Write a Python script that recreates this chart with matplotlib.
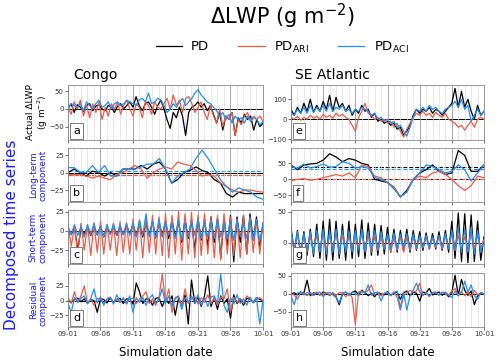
import numpy as np
import matplotlib
matplotlib.use('Agg')
import matplotlib.pyplot as plt
import matplotlib.dates as mdates
from datetime import datetime

# ---- data (half-day steps unless noted) ----
# Congo, actual dLWP
a_pd = [0, 15, -10, 12, 5, -8, 10, 15, -5, 8, 12, 0, -5, 10, 5, -10, 8, 15, 0, 10, 20, 5, 35, 10, -5, 15, 20, 5,
        -15, 10, 25, 0, -30, -55, -10, -25, 5, -20, -75, -10, 5, 10, 20, 5, 15, -5, 10, -15, -40, -10, -60, -20,
        -30, -10, -75, -25, -40, -15, -30, -20, -60, -30, -50, -40]
a_ari = [5, -15, 20, 0, 25, -20, 10, -25, 15, -10, 20, -30, 5, -20, 15, 0, 20, -15, 10, 25, 0, -20, 15, 5, -25,
         20, 10, -15, 20, 5, 0, 15, 30, 0, 40, 10, 25, -10, 30, 35, 15, -10, 5, 20, -10, -30, 10, -20, -40, 0,
         -50, -20, -30, -10, -75, -30, -45, -20, -10, -35, -20, -30, -20, -35]
a_aci = [0, 15, 10, 5, 15, -5, 20, 10, 0, 15, 25, 5, 10, 20, 0, 15, 20, 10, 15, 25, 20, 15, 10, 25, 30, 20, 45,
         15, 20, 30, 25, 10, -10, 0, 15, 5, 20, 30, 10, 20, 30, 45, 55, 40, 30, 20, 15, 5, -5, -20, -10, -30,
         -15, -40, -20, -30, -25, -40, -20, -35, -25, -30, -45, -35]

# Congo, long-term component (daily)
b_pd = [0, 5, 0, -5, 2, 0, -5, 0, -5, 5, 5, 5, 10, 5, 12, 15, 5, -15, -10, 0, 3, 8, 3, 0, -10, -15, -30, -35,
        -28, -30, -30, -30, -30]
b_ari = [-3, -3, -3, -5, -8, -5, -8, -10, -3, 0, 5, 10, 5, -8, 0, 5, 8, 5, 15, 12, 10, 3, -5, -3, -5, -15, -20,
         -25, -28, -25, -25, -27, -28]
b_aci = [7, 7, 0, 0, 10, 0, 10, -5, -5, 5, 5, 5, 8, 12, 12, 20, 5, -15, -5, 0, 5, 20, 32, 20, 5, -10, -20, -28,
         -22, -25, -28, -35, -38]

# Congo, short-term component
c_pd = [4, -5, 5, -25, 3, -4, 5, -6, 4, -5, 6, -8, 5, -4, 6, -6, 5, -5, 7, -4, 8, -6, 10, -8, 9, -5, 12, -8,
        10, -6, 12, -10, 14, -8, 12, -15, 15, -10, 14, -25, 16, -12, 15, -20, 18, -15, 16, -35, 18, -20, 20,
        -40, 18, -15, 20, -30, 22, -12, 18, -20, 10]
c_ari = [8, -20, 6, -30, 10, -25, 8, -32, 10, -28, 12, -30, 8, -25, 10, -32, 12, -28, 10, -30, 15, -25, 14,
         -35, 18, -28, 20, -30, 18, -32, 22, -35, 20, -30, 25, -38, 22, -30, 24, -35, 20, -32, 22, -30, 18, -35,
         20, -38, 22, -30, 18, -32, 15, -35, 20, -30, 18, -28, 15, -30, 10]
c_aci = [6, -5, 8, -6, 6, -8, 8, -5, 10, -6, 6, -8, 8, -5, 9, -6, 8, -5, 10, -6, 10, -8, 14, -6, 22, -8, 12,
         -10, 15, -8, 12, -6, 10, -10, 14, -12, 10, -8, 12, -6, 14, -10, 10, -8, 12, -10, 15, -8, 10, -10, 12,
         -12, 14, -8, 10, -10, 15, -12, 14, -14, 8]

# Congo, residual component
d_pd = [0, -3, 2, 4, -2, 3, -5, 2, 0, -20, 3, 2, -4, 5, -3, 2, 4, -5, 3, 2, -6, 30, 15, -5, 3, 2, -8, 4, 5, -10,
        3, -5, 8, -25, 4, -8, 10, -40, 35, -5, 6, -10, 8, 42, -10, 5, -15, 8, -5, 3, -30, 10, -5, 3, -8, 4, 2,
        -3, 5, 2, 0]
d_ari = [5, -5, 15, -3, 8, 25, -5, 3, -8, 4, 2, -5, 3, 6, -4, 2, -3, 5, -6, 3, 4, -5, 2, 8, 15, -5, 3, -8, 5,
         45, -3, 20, -20, 5, 8, -10, 20, -5, 3, 8, -6, 5, -3, 10, -5, 4, -8, 6, 3, 20, -20, 5, -3, 4, -5, 8, 3,
         -4, 2, 5, 0]
d_aci = [-5, -20, 5, -3, 4, 8, -5, 3, 20, -4, 6, -8, 3, 5, -6, 10, -3, 4, -5, 8, -20, 5, -3, 6, -8, 4, 10, -5,
         3, 20, -5, 8, -10, 4, 6, -15, 5, -3, 8, -5, 10, -8, 5, -10, 6, 8, -5, 45, -8, -20, 5, -6, 10, -5, 3,
         -8, 6, -4, 5, -40, 0]

# SE Atlantic, actual dLWP
e_pd = [50, 20, 60, 30, 80, 40, 100, 35, 70, 40, 90, 50, 120, 40, 110, 60, 80, 40, 70, 20, 50, 30, 70, 40, 50,
        10, 30, -10, 0, -20, -10, -30, -20, -50, -40, -80, -60, -30, 20, 50, 30, 50, 40, 60, 30, 50, 40, 20, 40,
        60, 80, 155, 60, 140, 60, 100, 40, 0, 70, 20, 40]
e_ari = [10, 0, 15, -5, 10, 0, 20, 5, 15, 0, 25, 10, 20, 5, 30, 15, 25, 10, 0, -30, -60, 10, 40, 80, 30, 20, 0,
         10, -10, 0, -20, -10, -40, -20, -60, -90, -50, -20, 10, 30, 20, 40, 20, 30, 10, 35, 20, 10, 30, 0, -10,
         -20, -40, -30, -55, -30, -10, -40, 0, 10, 0]
e_aci = [30, 20, 50, 30, 60, 30, 70, 35, 60, 40, 70, 40, 80, 40, 60, 50, 70, 40, 50, 30, 50, 40, 60, 50, 40, 20,
         30, 0, 10, -10, 0, -20, -10, -40, -30, -60, -85, -40, 10, 50, 40, 60, 40, 70, 50, 60, 40, 30, 50, 60,
         70, 90, 60, 100, 50, 70, -10, 20, 50, 20, 40]

# SE Atlantic, long-term component (daily)
f_pd = [45, 30, 45, 48, 50, 60, 80, 70, 55, 65, 60, 50, 45, 0, -5, -10, -25, -55, -35, 0, 20, 30, 45, 25, 15,
        20, 90, 75, 25, 25, 45]
f_ari = [-5, 0, 2, -3, 0, 5, 10, 15, 10, 20, 5, 45, 40, 10, 5, -10, -25, -55, -40, 0, 10, 5, 20, 25, 15, 0, -20,
         -35, -20, 10, 5]
f_aci = [40, 35, 48, 35, 40, 48, 38, 40, 55, 50, 35, 40, 35, 5, 0, -10, -30, -55, -40, 0, 20, 45, 40, 30, 20,
         25, 45, 30, -5, 20, 45]

# SE Atlantic, short-term component
g_pd = [25, -15, 20, -20, 18, -20, 22, -22, 30, -25, 35, -28, 38, -28, 35, -25, 30, -28, 35, -25, 30, -22, 37,
        -25, 32, -20, 30, -20, 28, -18, 25, -15, 22, -15, 20, -12, 22, -15, 20, -12, 18, -12, 16, -10, 15, -10,
        18, -12, 20, -15, 35, -25, 48, -30, 47, -32, 45, -30, 35, -28, 10]
g_ari = [10, -8, 12, -10, 8, -10, 10, -12, 12, -10, 15, -12, 12, -10, 14, -12, 12, -10, 10, -8, 12, -10, 15,
         -12, 12, -15, 10, -12, 8, -10, 10, -15, 8, -12, 10, -15, 8, -12, 10, -10, 8, -8, 10, -10, 8, -8, 10,
         -10, 12, -8, 15, -12, 12, -10, 10, -12, 15, -10, 12, -8, 5]
g_aci = [20, -12, 18, -15, 15, -15, 18, -18, 20, -15, 22, -18, 20, -15, 22, -18, 20, -15, 18, -15, 20, -12, 22,
         -15, 18, -12, 20, -12, 18, -10, 15, -10, 16, -10, 14, -8, 15, -10, 14, -8, 12, -8, 12, -8, 10, -6, 12,
         -8, 15, -10, 20, -12, 25, -15, 22, -15, 25, -18, 20, -15, 5]

# SE Atlantic, residual component
h_pd = [0, 3, -2, 5, 2, 38, -5, 3, 0, -3, 5, 2, -4, 3, -8, -30, 0, 5, -3, 4, 8, -2, 10, 3, -5, 2, -8, 4, 0, -3,
        6, -4, 2, 5, -15, 3, 8, -5, 4, 2, -20, 5, 3, 15, -3, 2, 5, -4, 3, -8, 4, 52, -5, 40, 10, -4, 8, -30, -5,
        3, 0]
h_ari = [0, -3, -15, 4, 2, -5, 3, 0, 5, -4, 2, 3, -3, 2, -5, 4, 3, -8, 2, -10, -85, 5, 8, 2, 10, 25, -3, 4, -5,
         2, 3, -5, 6, -10, -45, -5, 3, 10, 5, 8, 30, -5, 3, -8, 4, 2, -3, 5, 2, -4, 8, 15, -3, 6, -5, 4, -8, 10,
         -3, 2, 0]
h_aci = [-5, -30, 2, 5, -3, 4, 2, -5, 3, 5, -8, 2, 4, -3, -10, -25, 2, 5, -3, 4, 2, -5, 6, 3, 25, -4, 3, 5, -20,
         2, 4, -5, 3, 8, -40, 5, -45, -5, 10, 30, 5, -3, 4, -5, 2, 6, -4, 3, 5, -3, -10, 8, -5, 4, 35, 5, 25, -5,
         -15, 3, 0]

# dashed mean lines in the long-term panels
b_means = [-4, -3, 2]
f_means = [38, 0, 32]

RED = '#f05a46'
BLUE = '#1f8ff5'
TXTBLUE = '#1a1aff'

start = mdates.date2num(datetime(2017, 9, 1))


def days(vals):
    return start + np.linspace(0, 30, len(vals))


fig = plt.figure(figsize=(5, 3.62), dpi=100)

lefts = [68 / 500, 291 / 500]
widths = [195 / 500, 193 / 500]
rows_px = [(85, 140), (148, 202), (210, 264), (273, 327)]

panels = [
    (0, 0, a_pd, a_ari, a_aci, (-88, 68), [-50, 0, 50], 'a', None),
    (0, 1, b_pd, b_ari, b_aci, (-42, 35), [-25, 0, 25], 'b', b_means),
    (0, 2, c_pd, c_ari, c_aci, (-43, 27), [-25, 0, 25], 'c', None),
    (0, 3, d_pd, d_ari, d_aci, (-45, 47), [-25, 0, 25], 'd', None),
    (1, 0, e_pd, e_ari, e_aci, (-104, 172), [-100, 0, 100], 'e', None),
    (1, 1, f_pd, f_ari, f_aci, (-71, 98), [-50, 0, 50], 'f', f_means),
    (1, 2, g_pd, g_ari, g_aci, (-34, 53), [0, 50], 'g', None),
    (1, 3, h_pd, h_ari, h_aci, (-92, 58), [-50, 0, 50], 'h', None),
]

handles = None
for col, row, pd_, ari, aci, ylim, yt, letter, means in panels:
    top, bot = rows_px[row]
    ax = fig.add_axes([lefts[col], 1 - bot / 362, widths[col], (bot - top) / 362])
    ax.axhline(0, color='black', lw=0.7, zorder=1)
    if means is not None:
        for m, c in zip(means, ['black', RED, BLUE]):
            ax.axhline(m, color=c, lw=0.8, ls='--', zorder=1)
    l1, = ax.plot(days(pd_), pd_, color='black', lw=0.9, zorder=2)
    l2, = ax.plot(days(ari), ari, color=RED, lw=0.9, zorder=2)
    l3, = ax.plot(days(aci), aci, color=BLUE, lw=0.9, zorder=2)
    if handles is None:
        handles = [l1, l2, l3]
    ax.set_xlim(start, start + 30)
    ax.set_ylim(*ylim)
    ax.set_yticks(yt)
    ax.xaxis.set_major_locator(mdates.DayLocator(bymonthday=[1, 6, 11, 16, 21, 26]))
    ax.xaxis.set_minor_locator(mdates.DayLocator())
    ax.xaxis.set_major_formatter(mdates.DateFormatter('%m-%d'))
    ax.grid(axis='x', which='major', color='#999999', lw=0.6)
    ax.grid(axis='x', which='minor', color='#dddddd', lw=0.5)
    ax.tick_params(labelsize=5, length=2, width=0.5, colors='#333333', pad=1)
    ax.tick_params(which='minor', length=0)
    if row < 3:
        ax.tick_params(labelbottom=False)
    for s in ax.spines.values():
        s.set_color('#888888')
        s.set_linewidth(0.6)
    ax.text(0.025, 0.07, letter, transform=ax.transAxes, fontsize=8, ha='left', va='bottom', zorder=5,
            bbox=dict(boxstyle='square,pad=0.25', fc='white', ec='#666666', lw=0.6))

# row labels on the left
ylabels = ['Actual ΔLWP\n(g m$^{-2}$)', 'Long-term\ncomponent', 'Short-term\ncomponent', 'Residual\ncomponent']
ycolors = ['black', TXTBLUE, TXTBLUE, TXTBLUE]
for (top, bot), lab, c in zip(rows_px, ylabels, ycolors):
    fig.text(38 / 500, 1 - (top + bot) / 2 / 362, lab, rotation=90, ha='center', va='center',
             fontsize=6.5, color=c, linespacing=1.1)

fig.text(0.024, 0.35, 'Decomposed time series', rotation=90, ha='center', va='center',
         fontsize=11, color=TXTBLUE)

fig.text(282 / 500, 0.955, 'ΔLWP (g m$^{-2}$)', ha='center', va='center', fontsize=15)
fig.text(73 / 500, 1 - 75 / 362, 'Congo', ha='left', va='center', fontsize=10)
fig.text(295 / 500, 1 - 75 / 362, 'SE Atlantic', ha='left', va='center', fontsize=10)
fig.text(165.5 / 500, 1 - 352 / 362, 'Simulation date', ha='center', va='center', fontsize=8.5)
fig.text(387.5 / 500, 1 - 352 / 362, 'Simulation date', ha='center', va='center', fontsize=8.5)

fig.legend(handles, ['PD', 'PD$_\\mathrm{ARI}$', 'PD$_\\mathrm{ACI}$'], loc='center',
           bbox_to_anchor=(282 / 500, 1 - 47 / 362), ncol=3, frameon=False, fontsize=9.5,
           handlelength=2.0, columnspacing=2.2, handletextpad=0.7)

fig.savefig('out.png', dpi=100)
